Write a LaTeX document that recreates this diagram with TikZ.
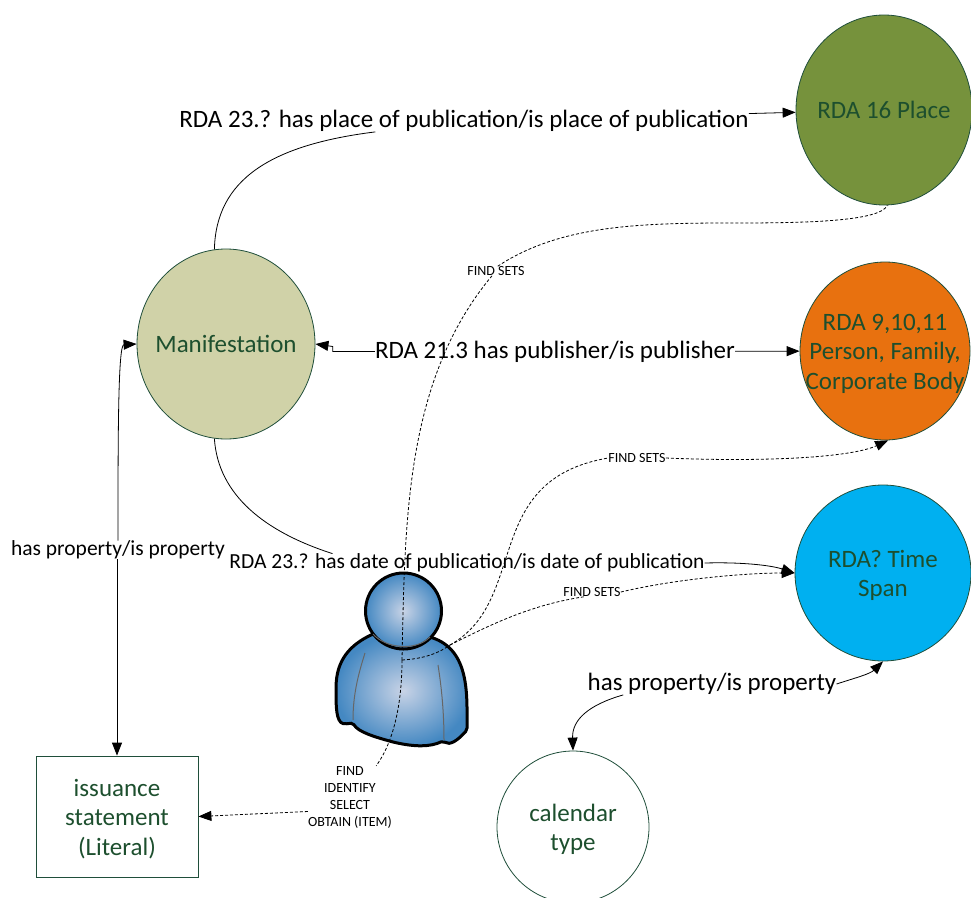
\documentclass[tikz,border=0pt]{standalone}
\usepackage{fontspec}
\setmainfont{Carlito}
\usetikzlibrary{shapes.geometric, arrows.meta}
\definecolor{edgegreen}{HTML}{1F4E3A}
\definecolor{textgreen}{HTML}{1D4F2E}
\definecolor{placegreen}{HTML}{76923C}
\definecolor{agentorange}{HTML}{E8710F}
\definecolor{timeblue}{HTML}{00B0F0}
\definecolor{manifesttan}{HTML}{D0D2A8}
\definecolor{bodyblue}{HTML}{4488C2}
\definecolor{bodylight}{HTML}{C8D3E6}
\newcommand{\nudge}{\rule{0pt}{22pt}}
\tikzstyle{entity} = [ellipse, inner xsep=-20pt, inner ysep=-20pt, align=center, draw=edgegreen, line width=0.8pt, text=textgreen, font=\fontsize{25}{29.5}\selectfont]
\tikzstyle{literal} = [rectangle, inner sep=0pt, align=center, draw=edgegreen, line width=0.8pt, text=textgreen, font=\fontsize{25}{29.5}\selectfont]
\tikzstyle{relation} = [inner sep=0pt, font=\fontsize{25}{29}\selectfont]
\tikzstyle{smallrelation} = [inner sep=0pt, font=\fontsize{21.5}{26}\selectfont]
\tikzstyle{findtag} = [inner sep=0pt, align=center, font=\fontsize{14}{17}\selectfont]
\tikzstyle{link} = [line width=0.8pt]
\tikzstyle{arrow} = [line width=0.8pt, -{Triangle[length=13pt,width=10pt]}]
\tikzstyle{findline} = [densely dashed, line width=0.8pt]
\tikzstyle{crease} = [draw=black!60, line width=1pt]

\begin{document}
\begin{tikzpicture}[x=1pt, y=-1pt, node distance=240pt]
\useasboundingbox (0,0) rectangle (971,897);

% Person
\path [shade, inner color=bodylight, outer color=bodyblue, draw=black, line width=3pt, rounded corners=2pt]
  (373,634) .. controls (350,645) and (336,660) .. (336,690)
  .. controls (336,705) and (336,722) .. (345,724)
  -- (353,723) .. controls (358,732) and (375,737) .. (393,742)
  .. controls (415,747) and (430,747) .. (443,741)
  .. controls (450,746) and (458,740) .. (467,730)
  .. controls (467,695) and (470,650) .. (430,637) -- cycle;
\draw [crease] (365,653) .. controls (358,675) and (353,695) .. (353,720);
\draw [crease] (438,665) .. controls (442,690) and (444,715) .. (444,740);
\path [shade, inner color=bodylight, outer color=bodyblue, draw=black, line width=3pt] (403.5,611) circle (38);
\draw [crease] (373,634) .. controls (385,648) and (415,652) .. (430,637);
\coordinate (hub) at (402,660);
\coordinate (fork) at (450,645);

% Nodes
\node (place) [entity, fill=placegreen, minimum width=176pt, minimum height=190pt] at (884,110) {RDA 16 Place};
\node (agent) [entity, fill=agentorange, below of=place, yshift=-1pt, xshift=1pt, minimum width=170pt, minimum height=178pt] {\nudge RDA 9,10,11\\Person, Family,\\Corporate Body};
\node (time) [entity, fill=timeblue, below of=agent, yshift=18pt, xshift=-2pt, minimum width=176pt, minimum height=176pt] {\nudge RDA? Time\\Span};
\node (calendar) [entity, fill=white, minimum width=152pt, minimum height=152pt] at (573,827) {\nudge calendar\\type};
\node (manifest) [entity, fill=manifesttan, minimum width=178pt, minimum height=190pt] at (226,344) {Manifestation};
\node (issuance) [literal, minimum width=162pt, minimum height=121pt] at (117,816.5) {\nudge issuance\\statement\\(Literal)};

\node (placerel) [relation] at (464,121) {RDA 23.? has place of publication/is place of publication};
\node (agentrel) [relation] at (555,351.5) {RDA 21.3 has publisher/is publisher};
\node (daterel) [smallrelation] at (467,563) {RDA 23.? has date of publication/is date of publication};
\node (issuerel) [smallrelation] at (118,550) {has property/is property};
\node (calrel) [relation] at (712,684) {has property/is property};

\node (placefind) [findtag] at (496,271) {FIND SETS};
\node (agentfind) [findtag] at (637,458) {FIND SETS};
\node (timefind) [findtag] at (592,592) {FIND SETS};
\node (taskfind) [findtag] at (350,797) {FIND\\IDENTIFY\\SELECT\\OBTAIN (ITEM)};

% Arrows
\draw [link] (manifest.97) .. controls (216,180) and (270,145) .. (placerel.187);
\draw [arrow] (placerel) -- (place);
\draw [arrow] (agentrel.west) -- ++(-42,0) -- ++(0,-5) -- (manifest.east);
\draw [arrow] (agentrel) -- (agent);
\draw [link] (manifest.263) .. controls (218,495) and (265,532) .. (daterel.176);
\draw [arrow] (daterel.east) .. controls (740,562) and (770,565) .. (time.west);
\draw [arrow] (issuerel.north) .. controls (118,440) and (118,345) .. (manifest.west);
\draw [arrow] (issuerel.south -| issuance.north) -- (issuance.north);
\draw [arrow] (calrel.187) .. controls (588,705) and (572,720) .. (calendar.north);
\draw [arrow] (calrel.east) .. controls (855,678) and (870,674) .. (time.south);

\draw [findline] (hub) .. controls (420,659) and (436,655) .. (fork);
\draw [findline] (fork) .. controls (530,600) and (480,480) .. (agentfind.west);
\draw [findline, arrow] (agentfind.east) .. controls (760,462) and (850,458) .. (agent.272);
\draw [findline] (fork) .. controls (490,625) and (530,605) .. (timefind.210);
\draw [findline, arrow] (timefind.east) .. controls (680,578) and (750,573) .. (time.west);
\draw [findline] (hub) .. controls (405,520) and (405,380) .. (placefind.230);
\draw [findline] (placefind.70) .. controls (560,225) and (640,223) .. (733,223) .. controls (800,223) and (880,222) .. (place.272);
\draw [findline] (hub) .. controls (402,700) and (395,740) .. (taskfind.50);
\draw [findline, arrow] (taskfind.199) -- (issuance.east);

\end{tikzpicture}
\end{document}
